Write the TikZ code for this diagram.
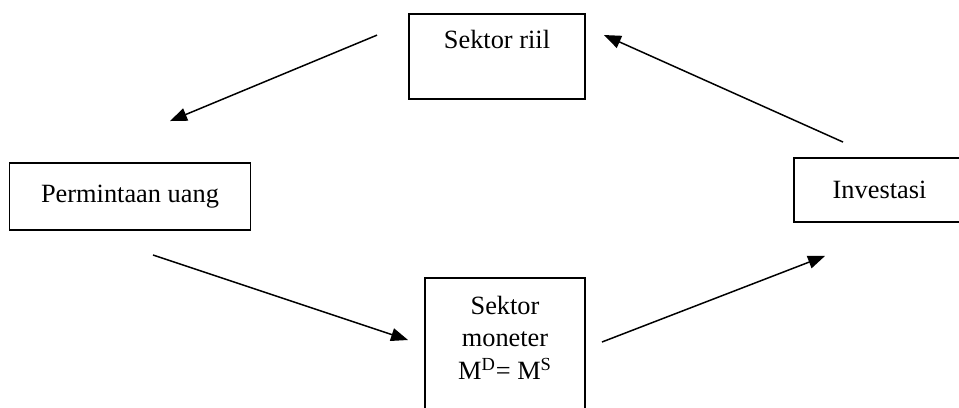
\documentclass[tikz,border=0pt]{standalone}
\usepackage{fontspec}
\setmainfont{Liberation Serif}
\usetikzlibrary{arrows.meta}

\begin{document}
\begin{tikzpicture}[
  x=0.02cm, y=-0.02cm,
  box/.style={draw, line width=1.1pt, align=center, inner xsep=0pt, font=\fontsize{15}{17}\selectfont},
  arrow/.style={-{Triangle[length=0.34cm, width=0.26cm]}, line width=0.85pt}
]
\useasboundingbox (0,0) rectangle (959,407);
\node[box, anchor=north, minimum width=176*0.02cm, inner ysep=0.32cm, text depth=0.70cm] (riil) at (497,13) {Sektor riil};
\node[box, minimum width=241*0.02cm, minimum height=67*0.02cm] (permintaan) at (130,196.5) {Permintaan uang};
\node[box, minimum width=166*0.02cm, minimum height=64*0.02cm] (investasi) at (877,190) {\hspace{0.1cm}Investasi};
\node[box, anchor=north, minimum width=160*0.02cm, inner ysep=0.36cm, text depth=3cm,
  font=\fontsize{15}{18.5}\selectfont] (moneter) at (505,277) {Sektor\\moneter\\M\textsuperscript{D}= M\textsuperscript{S}};
% free ends of the arrows
\coordinate (riil-out) at ([shift={(-31,-21.5)}]riil.west);
\coordinate (permintaan-in) at ([shift={(40,-41)}]permintaan.north);
\coordinate (permintaan-out) at ([shift={(23,24)}]permintaan.south);
\coordinate (moneter-in) at ([shift={(-16,63)}]moneter.north west);
\coordinate (moneter-out) at ([shift={(16,65)}]moneter.north east);
\coordinate (investasi-in) at ([shift={(-52,33)}]investasi.south);
\coordinate (investasi-out) at ([shift={(-34,-15)}]investasi.north);
\coordinate (riil-in) at ([shift={(18,22)}]riil.north east);
\draw[arrow] (riil-out) -- (permintaan-in);
\draw[arrow] (permintaan-out) -- (moneter-in);
\draw[arrow] (moneter-out) -- (investasi-in);
\draw[arrow] (investasi-out) -- (riil-in);
\end{tikzpicture}
\end{document}
